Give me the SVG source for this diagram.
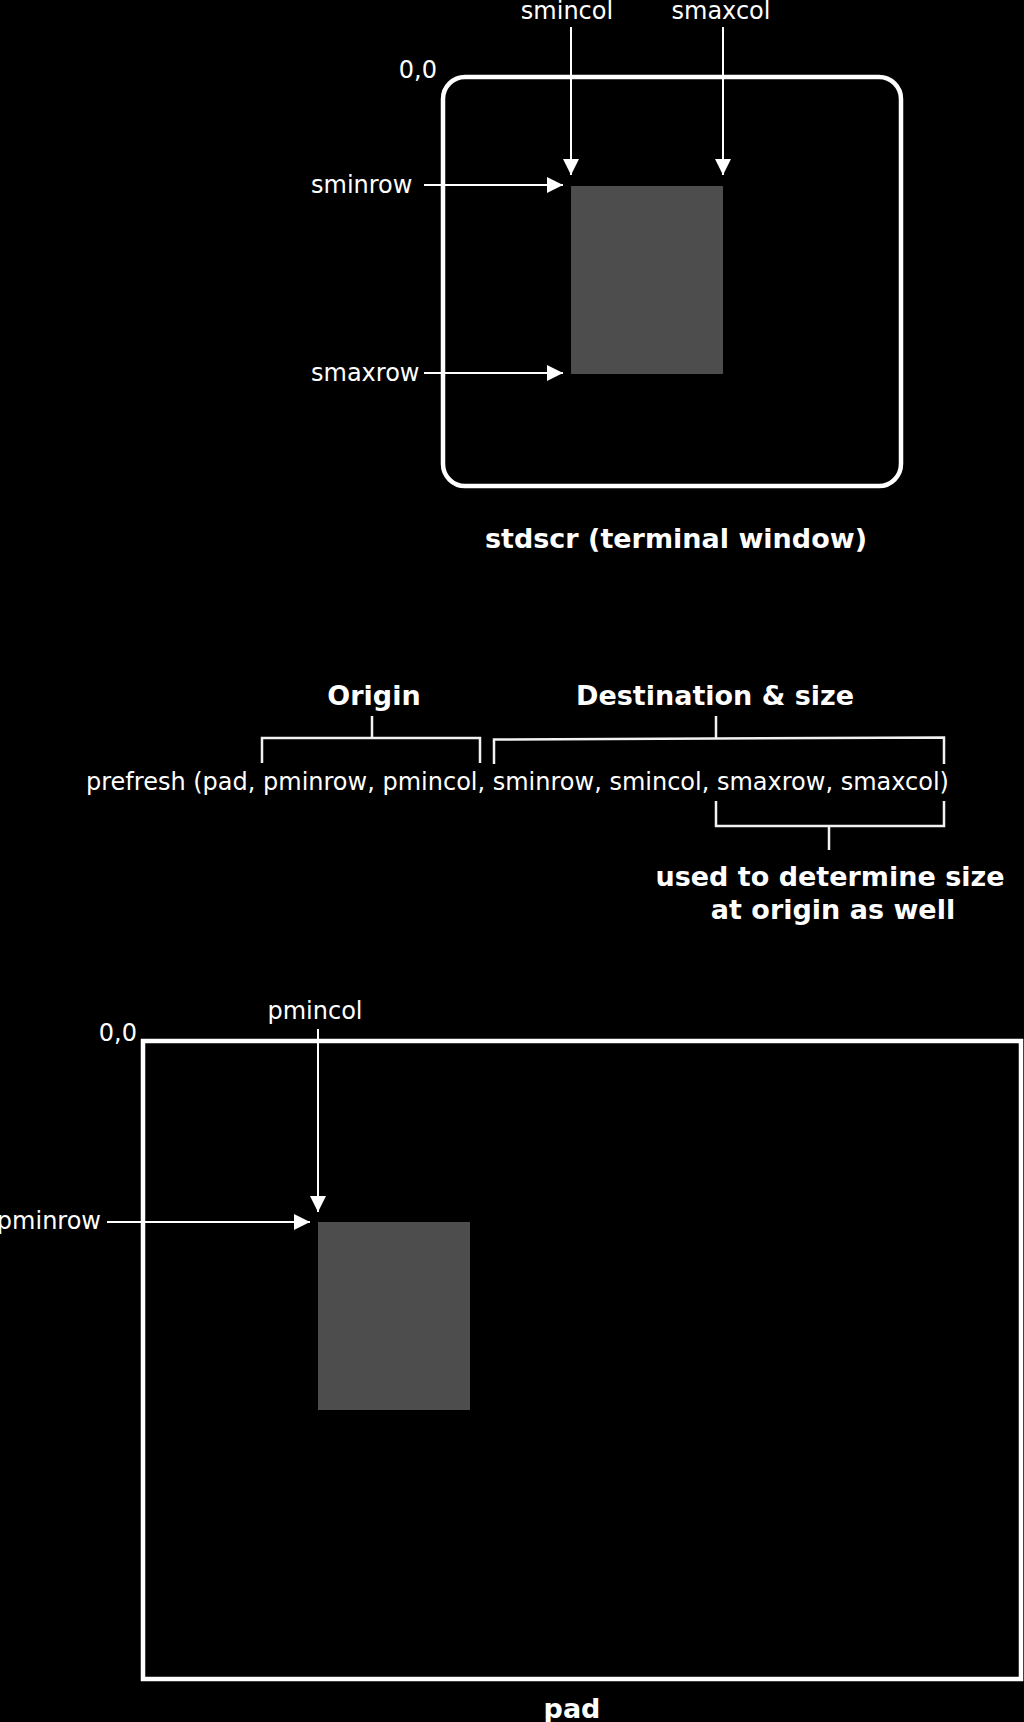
<svg xmlns="http://www.w3.org/2000/svg" width="1024" height="1722" viewBox="0 0 1024 1722">
<style>
  text { font-family: "DejaVu Sans", "Liberation Sans", sans-serif; fill: #ffffff; font-size: 24px; }
  .b { font-weight: bold; font-size: 27px; }
  .m { text-anchor: middle; }
  .e { text-anchor: end; }
  .frame { fill: none; stroke: #ffffff; stroke-width: 4.5; }
  .area { fill: #4d4d4d; }
  .arrow { fill: none; stroke: #ffffff; stroke-width: 2; marker-end: url(#ah); }
  .brk { fill: none; stroke: #f2f2f2; stroke-width: 2.5; }
</style>
<defs>
  <marker id="ah" markerUnits="userSpaceOnUse" markerWidth="16" markerHeight="16" refX="16" refY="8" orient="auto">
    <path d="M0,0 L16,8 L0,16 z" fill="#ffffff"/>
  </marker>
</defs>
<rect x="0" y="0" width="1024" height="1722" fill="#000000"/>

<g id="stdscr">
  <rect class="frame" x="443" y="77" width="458" height="409" rx="22" ry="22"/>
  <text x="437" y="78" class="e" font-size="22">0,0</text>
  <text x="676" y="548" class="b m">stdscr (terminal window)</text>
</g>
<g id="stdscr-area">
  <rect class="area" x="571" y="186" width="152" height="188"/>
</g>
<g id="label-smincol"><text x="567" y="19" class="m">smincol</text></g>
<g id="label-smaxcol"><text x="721" y="19" class="m">smaxcol</text></g>
<g id="label-sminrow"><text x="311" y="193">sminrow</text></g>
<g id="label-smaxrow"><text x="311" y="381">smaxrow</text></g>

<g id="call">
  <text x="86" y="790" font-size="24.2">prefresh (pad, pminrow, pmincol, sminrow, smincol, smaxrow, smaxcol)</text>
</g>
<g id="label-origin"><text x="374" y="705" class="b m">Origin</text></g>
<g id="label-dest"><text x="715" y="705" class="b m">Destination &amp; size</text></g>
<g id="label-used">
  <text x="830" y="886" class="b m">used to determine size</text>
  <text x="833" y="919" class="b m">at origin as well</text>
</g>

<g id="pad">
  <rect class="frame" x="143" y="1041" width="878" height="638"/>
  <text x="137" y="1041" class="e" font-size="22">0,0</text>
  <text x="572" y="1718" class="b m">pad</text>
</g>
<g id="pad-area">
  <rect class="area" x="318" y="1222" width="152" height="188"/>
</g>
<g id="label-pmincol"><text x="315" y="1019" class="m">pmincol</text></g>
<g id="label-pminrow"><text x="101" y="1229" class="e">pminrow</text></g>

<g id="connectors">
  <line class="arrow" x1="571" y1="27" x2="571" y2="175"/>
  <line class="arrow" x1="723" y1="27" x2="723" y2="175"/>
  <line class="arrow" x1="424" y1="185" x2="563" y2="185"/>
  <line class="arrow" x1="424" y1="373" x2="563" y2="373"/>
  <line class="arrow" x1="318" y1="1029" x2="318" y2="1212"/>
  <line class="arrow" x1="107" y1="1222" x2="310" y2="1222"/>
  <path class="brk" d="M262,763 V738 H480 V763"/>
  <path class="brk" d="M372,716 V738"/>
  <path class="brk" d="M494,764 V739.5 L944,737.5 V764"/>
  <path class="brk" d="M716,716 V738.5"/>
  <path class="brk" d="M716,801 V826 H944 V801"/>
  <path class="brk" d="M829,826 V850"/>
</g>
</svg>
